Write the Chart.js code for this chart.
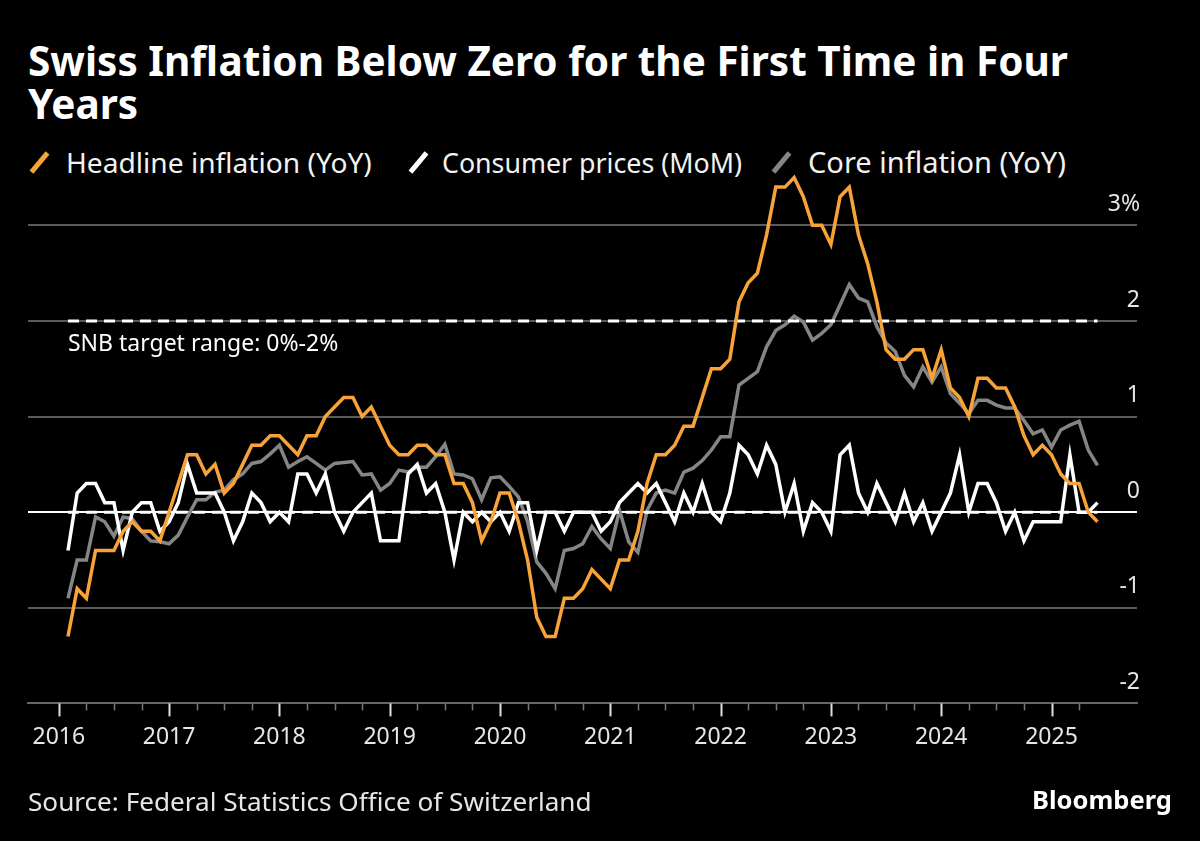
<!DOCTYPE html>
<html>
<head>
<meta charset="utf-8">
<script src="https://cdn.jsdelivr.net/npm/chart.js@4/dist/chart.umd.min.js"></script>
<style>
    body { margin: 0; width: 1200px; height: 841px; background: #000; overflow: hidden; position: relative;
           font-family: "Noto Sans", "Open Sans", sans-serif; color: #fff; }
    .txt { position: absolute; white-space: nowrap; }
    #title { font-weight: 700; font-size: 36px; }
    .lg { font-size: 27px; color: #f2f2f2; }
    .sw { position: absolute; width: 5px; height: 25px; transform: rotate(40deg); }
    #source { font-size: 23px; color: #e6e6e6; }
    #brand { font-size: 25px; font-weight: 700; }
    #chartBox { position: absolute; left: 0; top: 0; width: 1200px; height: 841px; }
</style>
</head>
<body>

<div id="title" class="txt"><span id="t1">Swiss Inflation Below Zero for the First Time in Four</span> <br>Years</div>

<span class="sw" style="left:37px; top:150px; background:#f8a33a;"></span>
<span id="lg1" class="txt lg">Headline inflation (YoY)</span>
<span class="sw" style="left:416px; top:150px; background:#ffffff;"></span>
<span id="lg2" class="txt lg">Consumer prices (MoM)</span>
<span class="sw" style="left:779px; top:150px; background:#858585;"></span>
<span id="lg3" class="txt lg">Core inflation (YoY)</span>

<div id="chartBox"><canvas id="inflChart"></canvas></div>

<div id="source" class="txt">Source: Federal Statistics Office of Switzerland</div>
<div id="brand" class="txt">Bloomberg</div>

<script>
// Data bulanan Jan 2016 - Mei 2025 (dalam %)
const years = ['2016', '2017', '2018', '2019', '2020', '2021', '2022', '2023', '2024', '2025'];

const headline = [
    -1.3, -0.8, -0.9, -0.4, -0.4, -0.4, -0.2, -0.1, -0.2, -0.2, -0.3, 0.0,
    0.3, 0.6, 0.6, 0.4, 0.5, 0.2, 0.3, 0.5, 0.7, 0.7, 0.8, 0.8,
    0.7, 0.6, 0.8, 0.8, 1.0, 1.1, 1.2, 1.2, 1.0, 1.1, 0.9, 0.7,
    0.6, 0.6, 0.7, 0.7, 0.6, 0.6, 0.3, 0.3, 0.1, -0.3, -0.1, 0.2,
    0.2, -0.1, -0.5, -1.1, -1.3, -1.3, -0.9, -0.9, -0.8, -0.6, -0.7, -0.8,
    -0.5, -0.5, -0.2, 0.3, 0.6, 0.6, 0.7, 0.9, 0.9, 1.2, 1.5, 1.5,
    1.6, 2.2, 2.4, 2.5, 2.9, 3.4, 3.4, 3.5, 3.3, 3.0, 3.0, 2.8,
    3.3, 3.4, 2.9, 2.6, 2.2, 1.7, 1.6, 1.6, 1.7, 1.7, 1.4, 1.7,
    1.3, 1.2, 1.0, 1.4, 1.4, 1.3, 1.3, 1.1, 0.8, 0.6, 0.7, 0.6,
    0.4, 0.3, 0.3, 0.0, -0.1
];

const consumerMoM = [
    -0.4, 0.2, 0.3, 0.3, 0.1, 0.1, -0.4, 0.0, 0.1, 0.1, -0.2, -0.1,
    0.1, 0.5, 0.2, 0.2, 0.2, 0.0, -0.3, -0.1, 0.2, 0.1, -0.1, 0.0,
    -0.1, 0.4, 0.4, 0.2, 0.4, 0.0, -0.2, 0.0, 0.1, 0.2, -0.3, -0.3,
    -0.3, 0.4, 0.5, 0.2, 0.3, 0.0, -0.5, 0.0, -0.1, 0.0, -0.1, 0.0,
    -0.2, 0.1, 0.1, -0.4, 0.0, 0.0, -0.2, 0.0, 0.0, 0.0, -0.2, -0.1,
    0.1, 0.2, 0.3, 0.2, 0.3, 0.1, -0.1, 0.2, 0.0, 0.3, 0.0, -0.1,
    0.2, 0.7, 0.6, 0.4, 0.7, 0.5, 0.0, 0.3, -0.2, 0.1, 0.0, -0.2,
    0.6, 0.7, 0.2, 0.0, 0.3, 0.1, -0.1, 0.2, -0.1, 0.1, -0.2, 0.0,
    0.2, 0.6, 0.0, 0.3, 0.3, 0.1, -0.2, 0.0, -0.3, -0.1, -0.1, -0.1,
    -0.1, 0.6, 0.0, 0.0, 0.1
];

const core = [
    -0.9, -0.5, -0.5, -0.05, -0.1, -0.25, -0.05, -0.07, -0.2, -0.3, -0.31, -0.33,
    -0.24, -0.05, 0.13, 0.13, 0.21, 0.23, 0.34, 0.4, 0.51, 0.53, 0.61, 0.7,
    0.47, 0.53, 0.58, 0.51, 0.44, 0.51, 0.52, 0.53, 0.39, 0.4, 0.23, 0.3,
    0.44, 0.42, 0.47, 0.47, 0.58, 0.71, 0.4, 0.39, 0.35, 0.13, 0.36, 0.37,
    0.27, 0.16, -0.1, -0.52, -0.64, -0.8, -0.4, -0.38, -0.33, -0.15, -0.28, -0.38,
    0.02, -0.31, -0.42, 0.02, 0.2, 0.23, 0.2, 0.42, 0.46, 0.54, 0.65, 0.79,
    0.79, 1.33, 1.4, 1.47, 1.73, 1.9, 1.96, 2.05, 1.99, 1.8, 1.87, 1.96,
    2.17, 2.38, 2.24, 2.2, 1.94, 1.77, 1.68, 1.43, 1.31, 1.52, 1.36, 1.52,
    1.24, 1.14, 1.03, 1.17, 1.17, 1.12, 1.09, 1.09, 0.96, 0.82, 0.86, 0.68,
    0.86, 0.91, 0.95, 0.65, 0.49
];

const yTicks = [-2, -1, 0, 1, 2, 3];
const snbTarget = [0, 2];   // batas bawah & atas target SNB

const ORANGE = '#f8a33a';
const GREY = '#858585';
const FONT = '"Noto Sans", "Open Sans", sans-serif';

// x = bulan sejak 1 Jan 2016, titik data diletakkan di akhir bulan
const toPoints = arr => arr.map((v, i) => ({ x: i + 1, y: v }));
const lastX = headline.length;

// tick kuartalan, label tahun tiap 12 bulan
const xTickVals = [];
for (let m = 0; m < lastX; m += 3) xTickVals.push(m);

// Gambar tick sumbu x (mayor lebih panjang)
const xTickPlugin = {
    id: 'xTicks',
    afterDraw(chart) {
        const { ctx, scales: { x }, chartArea } = chart;
        ctx.save();
        xTickVals.forEach(v => {
            const px = Math.round(x.getPixelForValue(v)) + 0.5;
            const major = v % 12 === 0;
            ctx.strokeStyle = major ? '#e0e0e0' : '#777';
            ctx.lineWidth = major ? 2 : 1.5;
            ctx.beginPath();
            ctx.moveTo(px, chartArea.bottom);
            ctx.lineTo(px, chartArea.bottom + (major ? 13 : 7));
            ctx.stroke();
        });
        ctx.restore();
    }
};

// Label target SNB di bawah garis 2%
const snbLabelPlugin = {
    id: 'snbLabel',
    afterDatasetsDraw(chart) {
        const { ctx, scales: { x, y } } = chart;
        ctx.save();
        ctx.font = '23px ' + FONT;
        ctx.fillStyle = '#ffffff';
        ctx.textAlign = 'left';
        ctx.textBaseline = 'middle';
        ctx.fillText('SNB target range: 0%-2%', x.getPixelForValue(1), y.getPixelForValue(snbTarget[1]) + 23);
        ctx.restore();
    }
};

const lineStyle = { pointRadius: 0, borderWidth: 3.5, tension: 0, fill: false };

new Chart(document.getElementById('inflChart'), {
    type: 'line',
    data: {
        datasets: [
            { ...lineStyle, label: 'Headline inflation (YoY)', data: toPoints(headline), borderColor: ORANGE, order: 0 },
            { ...lineStyle, label: 'SNB upper', borderWidth: 3, borderDash: [11, 7], borderColor: '#fff', order: 1,
              data: [{ x: 1, y: snbTarget[1] }, { x: lastX, y: snbTarget[1] }] },
            { ...lineStyle, label: 'SNB lower', borderWidth: 3, borderDash: [11, 7], borderColor: '#fff', order: 1,
              data: [{ x: 1, y: snbTarget[0] }, { x: lastX, y: snbTarget[0] }] },
            { ...lineStyle, label: 'Consumer prices (MoM)', data: toPoints(consumerMoM), borderColor: '#ffffff', order: 2 },
            { ...lineStyle, label: 'Core inflation (YoY)', data: toPoints(core), borderColor: GREY, order: 3 }
        ]
    },
    options: {
        responsive: true,
        maintainAspectRatio: false,
        animation: false,
        layout: { padding: { left: 28, right: 57, top: 168, bottom: 70 } },
        plugins: { legend: { display: false }, tooltip: { enabled: false } },
        scales: {
            x: {
                type: 'linear',
                min: -3.35,
                max: 117.3,
                afterBuildTicks: s => { s.ticks = xTickVals.map(v => ({ value: v })); },
                afterFit: s => { s.paddingLeft = 0; s.paddingRight = 0; },
                ticks: {
                    autoSkip: false,
                    maxRotation: 0,
                    padding: 20,
                    color: '#e6e6e6',
                    font: { family: FONT, size: 23 },
                    callback: v => (v % 12 === 0 ? years[v / 12] : '')
                },
                grid: { display: false, drawTicks: false },
                border: { display: true, color: '#666', width: 2 }
            },
            y: {
                position: 'right',
                min: -2,
                max: 3.6,
                afterBuildTicks: s => { s.ticks = yTicks.map(v => ({ value: v })); },
                afterFit: s => { s.paddingTop = 0; s.paddingBottom = 0; },
                ticks: {
                    mirror: true,
                    padding: 3,
                    labelOffset: -21,
                    color: '#e6e6e6',
                    font: { family: FONT, size: 23 },
                    callback: v => (v === 3 ? '3%' : String(v))
                },
                grid: {
                    drawTicks: false,
                    lineWidth: 2,
                    color: c => (c.tick && c.tick.value === 0 ? '#ffffff' : '#5a5a5a')
                },
                border: { display: false }
            }
        }
    },
    plugins: [xTickPlugin, snbLabelPlugin]
});

// Atur ukuran & posisi teks HTML supaya lebarnya pas dengan referensi
function place(id, left, capCenterY, targetW, measureId) {
    const el = document.getElementById(id);
    const m = document.getElementById(measureId || id);
    const fs0 = parseFloat(getComputedStyle(el).fontSize);
    const w = m.getBoundingClientRect().width;
    const fs = fs0 * targetW / w;
    el.style.fontSize = fs + 'px';
    const lh = id === 'title' ? 43 : Math.round(fs * 1.3);
    el.style.lineHeight = lh + 'px';
    el.style.left = left + 'px';
    el.style.top = (capCenterY - lh / 2 - 0.03 * fs) + 'px';
}

place('title', 28, 62, 1040, 't1');
place('lg1', 66, 163, 306);
place('lg2', 442, 163, 300);
place('lg3', 808, 163, 258);
place('source', 28, 802, 564);
place('brand', 1032, 800, 140);
</script>
</body>
</html>
